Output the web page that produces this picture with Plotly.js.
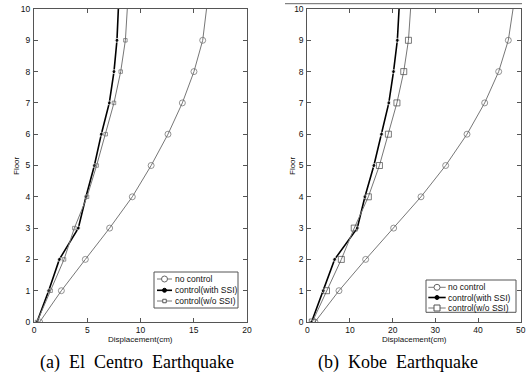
<!DOCTYPE html>
<html><head><meta charset="utf-8">
<script src="https://cdn.plot.ly/plotly-3.0.1.min.js"></script>
<style>body{margin:0;padding:0;background:#fff}#chart{width:528px;height:378px}</style>
</head><body><div id="chart"></div>
<script>
const floors = [0,1,2,3,4,5,6,7,8,9,10];
// (a) El Centro
const elNoControl = [0.53,2.57,4.82,7.1,9.23,11.0,12.58,13.93,15.02,15.84,16.2];
const elWithSSI   = [0.28,1.38,2.38,4.16,4.88,5.67,6.32,7.07,7.51,7.79,7.92];
const elWoSSI     = [0.28,1.56,2.82,3.79,4.98,5.88,6.73,7.51,8.14,8.58,8.76];
// (b) Kobe
const kbNoControl = [1.8,7.42,13.67,20.23,26.64,32.42,37.42,41.56,44.84,47.1,48.2];
const kbWithSSI   = [1.0,3.75,6.4,11.7,13.5,15.6,17.4,19.1,20.2,21.1,21.5];
const kbWoSSI     = [1.17,4.5,7.97,11.0,14.3,16.9,19.0,21.0,22.6,23.7,24.2];
const seriesNames = ['no control','control(with SSI)','control(w/o SSI)'];
const captions = ['(a)  El  Centro  Earthquake','(b)  Kobe  Earthquake'];
const xTitle = 'Displacement(cm)';
const yTitle = 'Floor';
const xTicksA = [0,5,10,15,20];
const xTicksB = [0,10,20,30,40,50];
const yTicks = [0,1,2,3,4,5,6,7,8,9,10];

const W = 528, H = 378;
const px = x => x / W, py = y => 1 - y / H;
function sizes(s){ return floors.map((f,i)=> i===floors.length-1 ? 0 : s); }

function mk(x, name, style, xa, ya){
  return Object.assign({x:x, y:floors, name:name, type:'scatter', mode:'lines+markers',
    xaxis:xa, yaxis:ya, cliponaxis:true, showlegend:false}, style);
}
const cNo = '#777', cWo = '#777';
const stNo = {line:{color:cNo,width:1}, marker:{symbol:'circle-open',color:'#666',size:sizes(6),line:{width:1}}};
const stWith = {line:{color:'#000',width:1.6}, marker:{symbol:'circle',color:'#000',size:sizes(4)}};
const stWoA = {line:{color:cWo,width:1}, marker:{symbol:'square-open',color:'#666',size:sizes(3.5),line:{width:1}}};
const stWoB = {line:{color:cWo,width:1}, marker:{symbol:'square-open',color:'#444',size:sizes(6),line:{width:1}}};

const data = [
  mk(elNoControl, seriesNames[0], stNo, 'x','y'),
  mk(elWithSSI, seriesNames[1], stWith, 'x','y'),
  mk(elWoSSI, seriesNames[2], stWoA, 'x','y'),
  mk(kbNoControl, seriesNames[0], stNo, 'x2','y2'),
  mk(kbWithSSI, seriesNames[1], stWith, 'x2','y2'),
  mk(kbWoSSI, seriesNames[2], stWoB, 'x2','y2'),
];

const sans = 'Liberation Sans, Arial, sans-serif';
const tickFont = {family:sans, size:8.5, color:'#111'};
function xax(range, ticks, domain, anchor){
  return {domain:domain, range:range, tickvals:ticks, ticks:'inside', ticklen:4, tickcolor:'#555',
    showline:true, linecolor:'#555', linewidth:1, mirror:'allticks', showgrid:false, zeroline:false,
    tickfont:tickFont, anchor:anchor, ticklabelstandoff:0};
}
function yax(domain, anchor){
  return {domain:domain, range:[0,10], tickvals:yTicks, ticks:'inside', ticklen:4, tickcolor:'#555',
    showline:true, linecolor:'#555', linewidth:1, mirror:'allticks', showgrid:false, zeroline:false,
    tickfont:tickFont, anchor:anchor, ticklabelstandoff:1};
}
const yd = [py(322), py(9)];

const annotations = [
  {text:captions[0], x:px(137), y:py(362)},
  {text:captions[1], x:px(398), y:py(362)}
].map(a => Object.assign({xref:'paper', yref:'paper', xanchor:'center', yanchor:'middle', showarrow:false,
   font:{family:'Liberation Serif, Times New Roman, serif', size:18, color:'#000'}}, a));

[[140,339.5],[414,339.5]].forEach(p => annotations.push({text:xTitle, xref:'paper', yref:'paper', x:px(p[0]), y:py(p[1]),
  xanchor:'center', yanchor:'middle', showarrow:false, font:{family:sans, size:8, color:'#111'}}));
[[17,166],[293,166]].forEach(p => annotations.push({text:yTitle, xref:'paper', yref:'paper', x:px(p[0]), y:py(p[1]),
  xanchor:'center', yanchor:'middle', showarrow:false, textangle:-90, font:{family:sans, size:8, color:'#111'}}));

const shapes = [{type:'line', xref:'paper', yref:'paper', x0:px(285), x1:px(522), y0:py(3.7), y1:py(3.7), line:{color:'#666', width:1}}];

// custom legends: box [x0,y0,x1,y1], rows y, line x0,x1, text x, square size
function legend(box, rows, lx0, lx1, tx, sq){
  shapes.push({type:'rect', xref:'paper', yref:'paper', x0:px(box[0]), x1:px(box[2]), y0:py(box[1]), y1:py(box[3]),
    line:{color:'#555', width:1}, fillcolor:'#fff', layer:'above'});
  const mx = (lx0 + lx1) / 2;
  const styles = [
    {lc:cNo, lw:1, kind:'circle', r:3, fill:'#fff', mc:'#666'},
    {lc:'#000', lw:1.6, kind:'circle', r:2, fill:'#000', mc:'#000'},
    {lc:cWo, lw:1, kind:'rect', r:sq/2, fill:'#fff', mc:'#555'}
  ];
  rows.forEach((ry, i) => {
    const s = styles[i];
    shapes.push({type:'line', xref:'paper', yref:'paper', x0:px(lx0), x1:px(lx1), y0:py(ry), y1:py(ry), line:{color:s.lc, width:s.lw}, layer:'above'});
    shapes.push({type:s.kind, xref:'paper', yref:'paper', x0:px(mx - s.r), x1:px(mx + s.r), y0:py(ry + s.r), y1:py(ry - s.r),
      line:{color:s.mc, width:1}, fillcolor:s.fill, layer:'above'});
    annotations.push({text:seriesNames[i], xref:'paper', yref:'paper', x:px(tx), y:py(ry), xanchor:'left', yanchor:'middle',
      showarrow:false, font:{family:sans, size:8.5, color:'#111'}});
  });
}
legend([154,272,238,308], [279,290.3,301], 157, 172, 172.5, 3.5);
legend([426,280,516,312.3], [287.3,297.5,308], 428.3, 445.7, 445.5, 6);

const layout = {
  width:W, height:H, margin:{l:0,r:0,t:0,b:0}, paper_bgcolor:'#fff', plot_bgcolor:'#fff',
  showlegend:false,
  xaxis: xax([0,20], xTicksA, [px(34), px(247)], 'y'),
  yaxis: yax(yd, 'x'),
  xaxis2: xax([0,50], xTicksB, [px(307.3), px(520.7)], 'y2'),
  yaxis2: yax(yd, 'x2'),
  annotations: annotations,
  shapes: shapes
};
Plotly.newPlot('chart', data, layout, {displayModeBar:false, staticPlot:true});
</script></body></html>
